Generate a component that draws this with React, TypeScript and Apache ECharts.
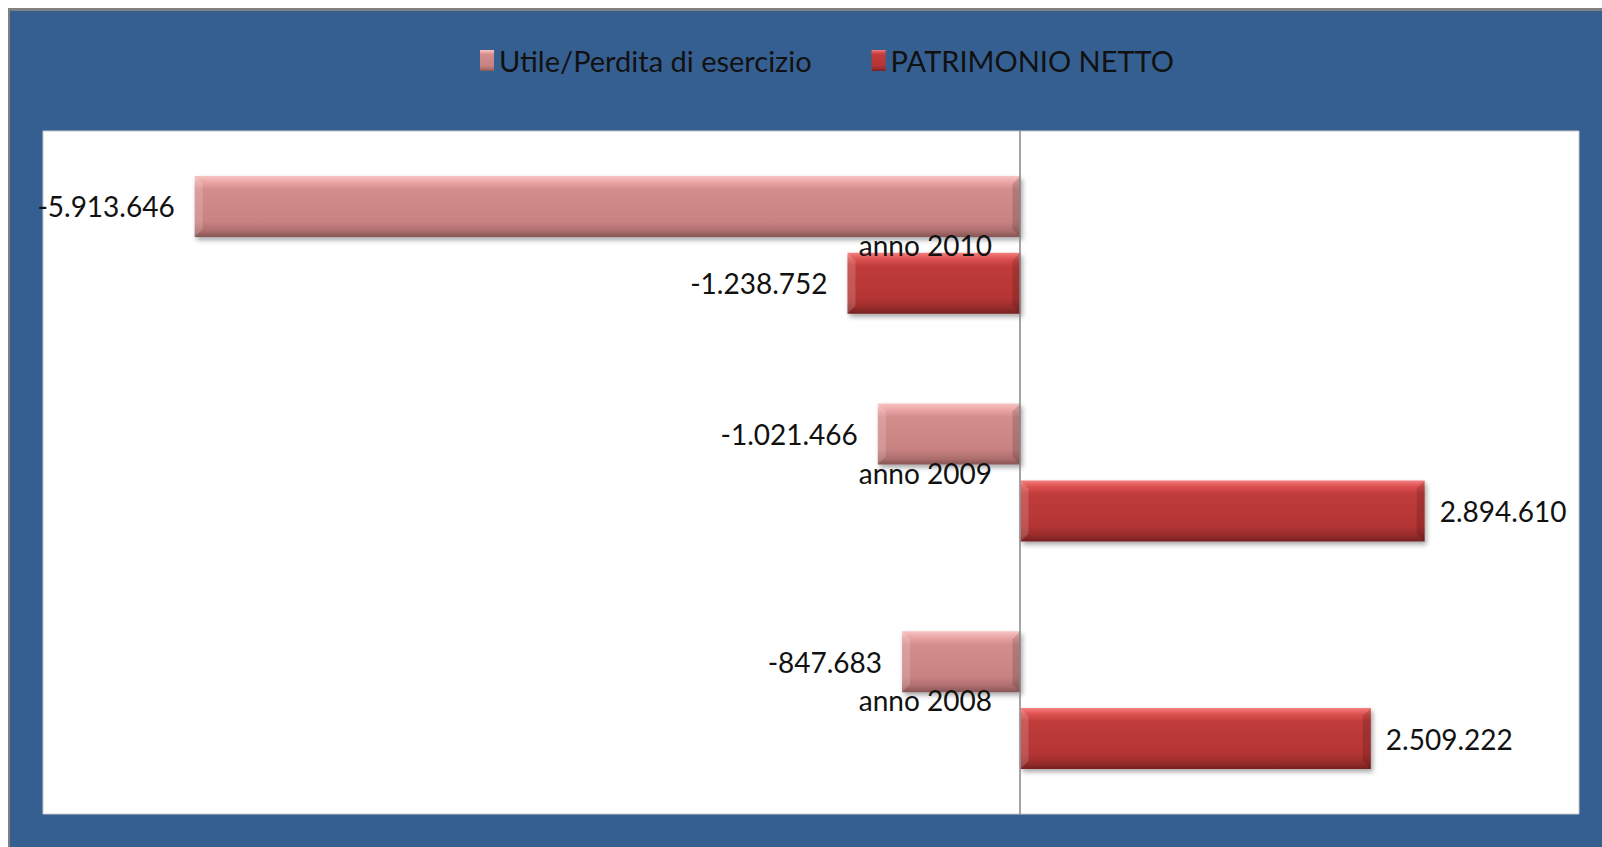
import React, { useEffect, useRef } from "react";
import * as echarts from "echarts";

const categories = ["anno 2008", "anno 2009", "anno 2010"];
const seriesNames = ["Utile/Perdita di esercizio", "PATRIMONIO NETTO"];
const utileValues = [-847683, -1021466, -5913646];
const patrimonioValues = [2509222, 2894610, -1238752];
const xMin = -7000000;
const xMax = 4000000;

const FONT = "Lato, 'Open Sans', sans-serif";
const BAR_W = 61;
const BAR_GAP = 0.26;

function fmt(v: number): string {
  const s = Math.abs(Math.round(v))
    .toString()
    .replace(/\B(?=(\d{3})+(?!\d))/g, ".");
  return (v < 0 ? "-" : "") + s;
}

function grad(stops: [number, string][]) {
  return new echarts.graphic.LinearGradient(
    0,
    0,
    0,
    1,
    stops.map(([offset, color]) => ({ offset, color }))
  );
}

const utileColor = grad([
  [0, "#f7c4c4"],
  [0.1, "#eba6a6"],
  [0.22, "#d48d8d"],
  [0.75, "#c98282"],
  [0.9, "#ae6e6e"],
  [1, "#865454"],
]);
const patrimonioColor = grad([
  [0, "#f58080"],
  [0.1, "#dc5150"],
  [0.22, "#c03c3b"],
  [0.75, "#b43534"],
  [0.9, "#982c2b"],
  [1, "#742121"],
]);

function makeData(values: number[]) {
  return values.map((v) => ({
    value: v,
    label: {
      position: v < 0 ? "left" : "right",
      distance: v < 0 ? 20 : 15,
    },
  }));
}

// bevel overlay data: [value, categoryIndex, seriesIndex]
const bevelData: number[][] = [
  ...utileValues.map((v, i) => [v, i, 0]),
  ...patrimonioValues.map((v, i) => [v, i, 1]),
];

export default function App() {
  const ref = useRef<HTMLDivElement>(null);
  useEffect(() => {
    if (!ref.current) return;
    const chart = echarts.init(ref.current, undefined, { renderer: "svg" });
    const labelCommon = {
      show: true,
      formatter: (p: any) => fmt(p.value),
      fontFamily: FONT,
      fontSize: 28,
      color: "#111",
    };
    const itemShadow = {
      shadowBlur: 5,
      shadowOffsetX: 2,
      shadowOffsetY: 3,
      shadowColor: "rgba(0,0,0,0.35)",
    };
    chart.setOption({
      animation: false,
      backgroundColor: "#365F91",
      graphic: [
        { type: "rect", shape: { x: 0, y: 0, width: 1594, height: 3 }, style: { fill: "#808080" }, silent: true },
        { type: "rect", shape: { x: 0, y: 0, width: 2, height: 839 }, style: { fill: "#808080" }, silent: true },
      ],
      legend: {
        data: seriesNames,
        left: 472,
        top: 38,
        padding: 0,
        itemWidth: 14,
        itemHeight: 21,
        itemGap: 60,
        icon: "rect",
        textStyle: { fontFamily: FONT, fontSize: 29, color: "#111" },
      },
      grid: {
        left: 35,
        top: 123,
        right: 23,
        bottom: 33,
        show: true,
        backgroundColor: "#ffffff",
        borderColor: "#c8c8c8",
        borderWidth: 1,
        containLabel: false,
        outerBoundsMode: "none",
      },
      xAxis: {
        type: "value",
        min: xMin,
        max: xMax,
        show: false,
        splitLine: { show: false },
      },
      yAxis: {
        type: "category",
        data: categories,
        offset: -977,
        z: 10,
        axisLine: { show: true, onZero: false, lineStyle: { color: "#868686", width: 1.5 } },
        axisTick: { show: false },
        axisLabel: { fontFamily: FONT, fontSize: 28, color: "#111", margin: 28 },
      },
      series: [
        {
          name: seriesNames[0],
          type: "bar",
          data: makeData(utileValues),
          barWidth: BAR_W,
          barGap: BAR_GAP * 100 + "%",
          itemStyle: { color: utileColor, ...itemShadow },
          label: labelCommon,
        },
        {
          name: seriesNames[1],
          type: "bar",
          data: makeData(patrimonioValues),
          barWidth: BAR_W,
          barGap: BAR_GAP * 100 + "%",
          itemStyle: { color: patrimonioColor, ...itemShadow },
          label: labelCommon,
        },
        {
          type: "custom",
          silent: true,
          z: 3,
          data: bevelData,
          encode: { x: 0, y: 1 },
          renderItem: (params: any, api: any) => {
            const v = api.value(0);
            const c = api.value(1);
            const s = api.value(2);
            const p0 = api.coord([0, c]);
            const p1 = api.coord([v, c]);
            const off = (s === 0 ? -1 : 1) * (BAR_W * (1 + BAR_GAP)) / 2;
            const yc = p0[1] + off;
            const yt = yc - BAR_W / 2;
            const yb = yc + BAR_W / 2;
            const xl = Math.min(p0[0], p1[0]);
            const xr = Math.max(p0[0], p1[0]);
            const b = 8;
            return {
              type: "group",
              children: [
                {
                  type: "polygon",
                  shape: { points: [[xl, yt], [xl + b, yt + b], [xl + b, yb - b], [xl, yb]] },
                  style: { fill: "rgba(255,255,255,0.16)" },
                },
                {
                  type: "polygon",
                  shape: { points: [[xr, yt], [xr - b, yt + b], [xr - b, yb - b], [xr, yb]] },
                  style: { fill: "rgba(0,0,0,0.14)" },
                },
              ],
            };
          },
        },
      ],
    });
    return () => chart.dispose();
  }, []);
  return (
    <div
      ref={ref}
      style={{ position: "fixed", left: 8, top: 8, width: 1594, height: 839 }}
    />
  );
}
